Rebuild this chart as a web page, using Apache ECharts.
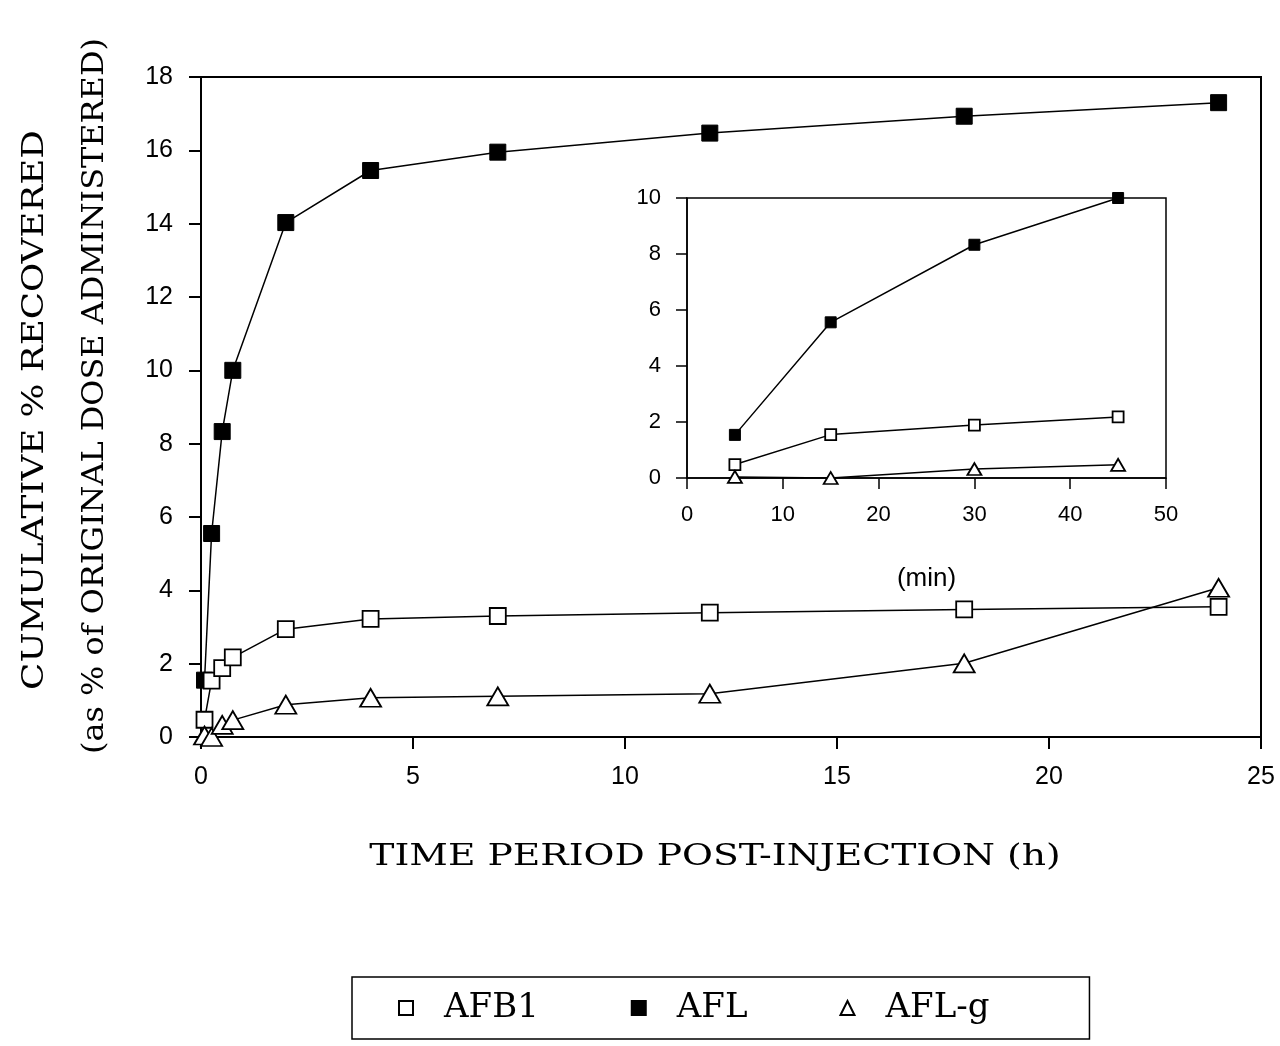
<!DOCTYPE html>
<html><head><meta charset="utf-8">
<script src="https://cdn.jsdelivr.net/npm/echarts@6/dist/echarts.min.js"></script>
<style>html,body{margin:0;padding:0;background:#fff}#c{width:1280px;height:1046px}</style>
</head><body><div id="c"></div>
<script>
// ---- data ----
const timesH   = [0.083, 0.25, 0.5, 0.75, 2, 4, 7, 12, 18, 24];
const afb1     = [0.47, 1.54, 1.88, 2.17, 2.94, 3.22, 3.30, 3.39, 3.48, 3.55];
const afl      = [1.55, 5.55, 8.33, 10.0, 14.03, 15.45, 15.95, 16.47, 16.93, 17.30];
const aflg     = [0.04, 0.0, 0.33, 0.46, 0.88, 1.07, 1.11, 1.18, 2.01, 4.07];
const timesMin = [5, 15, 30, 45];
const insetAfb1 = [0.48, 1.55, 1.89, 2.18];
const insetAfl  = [1.54, 5.56, 8.33, 10.0];
const insetAflg = [0.04, 0.0, 0.32, 0.47];
const seriesNames = ['AFB1', 'AFL', 'AFL-g'];
const xTitle = 'TIME PERIOD POST-INJECTION (h)';
const yTitle1 = 'CUMULATIVE % RECOVERED';
const yTitle2 = '(as % of ORIGINAL DOSE ADMINISTERED)';
const insetXName = '(min)';

const pair = (xs, ys) => xs.map((x, i) => [x, ys[i]]);
const SANS = '"Liberation Sans", Arial, sans-serif';
const SERIF = '"DejaVu Serif", "Liberation Serif", serif';

const openStyle = { color: '#fff', borderColor: '#000', borderWidth: 1.8 };
const fillStyle = { color: '#000', borderColor: '#000', borderWidth: 1 };
const line = { color: '#000', width: 1.5 };

function axisCommon(fs, margin, tickLen, lw) {
  return {
    axisLine: { show: true, onZero: false, lineStyle: { color: '#000', width: lw } },
    axisTick: { show: true, length: tickLen, lineStyle: { color: '#000', width: lw } },
    axisLabel: { color: '#000', fontSize: fs, fontFamily: SANS, margin: margin },
    splitLine: { show: false }
  };
}

const chart = echarts.init(document.getElementById('c'), null, { renderer: 'canvas' });
chart.setOption({
  backgroundColor: '#fff',
  animation: false,
  grid: [
    { left: 201, top: 77, width: 1060, height: 660, show: true, borderColor: '#000', borderWidth: 2, backgroundColor: 'transparent' },
    { left: 687, top: 198, width: 479, height: 280, show: true, borderColor: '#000', borderWidth: 1.5, backgroundColor: 'transparent' }
  ],
  xAxis: [
    Object.assign({ type: 'value', gridIndex: 0, min: 0, max: 25, interval: 5 }, axisCommon(25, 28, 12, 2)),
    Object.assign({ type: 'value', gridIndex: 1, min: 0, max: 50, interval: 10,
      name: insetXName, nameLocation: 'middle', nameGap: 88,
      nameTextStyle: { color: '#000', fontSize: 26, fontFamily: SANS } }, axisCommon(22, 26, 11, 1.5))
  ],
  yAxis: [
    Object.assign({ type: 'value', gridIndex: 0, min: 0, max: 18, interval: 2 }, axisCommon(25, 28, 12, 2)),
    Object.assign({ type: 'value', gridIndex: 1, min: 0, max: 10, interval: 2 }, axisCommon(22, 26, 11, 1.5))
  ],
  legend: {
    data: [
      { name: 'AFB1', icon: 'rect' },
      { name: 'AFL', icon: 'rect' },
      { name: 'AFL-g', icon: 'triangle' }
    ],
    left: 352, top: 977,
    itemWidth: 14, itemHeight: 14, itemGap: 92,
    padding: [14, 100, 14, 46],
    borderColor: '#000', borderWidth: 1.5,
    textStyle: { color: '#000', fontSize: 34, fontFamily: SERIF, padding: [0, 0, 0, 26] }
  },
  graphic: [
    { type: 'text', x: 715, y: 857, scaleX: 1.3,
      style: { text: xTitle, fontSize: 29, fontFamily: SERIF, fill: '#000', align: 'center', verticalAlign: 'middle' } },
    { type: 'text', x: 35, y: 410, rotation: Math.PI / 2, scaleX: 1.23,
      style: { text: yTitle1, fontSize: 29, fontFamily: SERIF, fill: '#000', align: 'center', verticalAlign: 'middle' } },
    { type: 'text', x: 95, y: 396, rotation: Math.PI / 2, scaleX: 1.1,
      style: { text: yTitle2, fontSize: 29, fontFamily: SERIF, fill: '#000', align: 'center', verticalAlign: 'middle' } }
  ],
  series: [
    { name: 'AFB1', type: 'line', xAxisIndex: 0, yAxisIndex: 0, data: pair(timesH, afb1),
      symbol: 'rect', symbolSize: 16, itemStyle: openStyle, lineStyle: line, z: 3 },
    { name: 'AFL', type: 'line', xAxisIndex: 0, yAxisIndex: 0, data: pair(timesH, afl),
      symbol: 'rect', symbolSize: 16, itemStyle: fillStyle, lineStyle: line, z: 2 },
    { name: 'AFL-g', type: 'line', xAxisIndex: 0, yAxisIndex: 0, data: pair(timesH, aflg),
      symbol: 'triangle', symbolSize: [21, 18], itemStyle: openStyle, lineStyle: line, z: 4 },
    { name: 'AFB1', type: 'line', xAxisIndex: 1, yAxisIndex: 1, data: pair(timesMin, insetAfb1),
      symbol: 'rect', symbolSize: 11, itemStyle: openStyle, lineStyle: line, z: 3 },
    { name: 'AFL', type: 'line', xAxisIndex: 1, yAxisIndex: 1, data: pair(timesMin, insetAfl),
      symbol: 'rect', symbolSize: 11, itemStyle: fillStyle, lineStyle: line, z: 2 },
    { name: 'AFL-g', type: 'line', xAxisIndex: 1, yAxisIndex: 1, data: pair(timesMin, insetAflg),
      symbol: 'triangle', symbolSize: [14, 12], itemStyle: openStyle, lineStyle: line, z: 4 }
  ]
});
</script></body></html>
